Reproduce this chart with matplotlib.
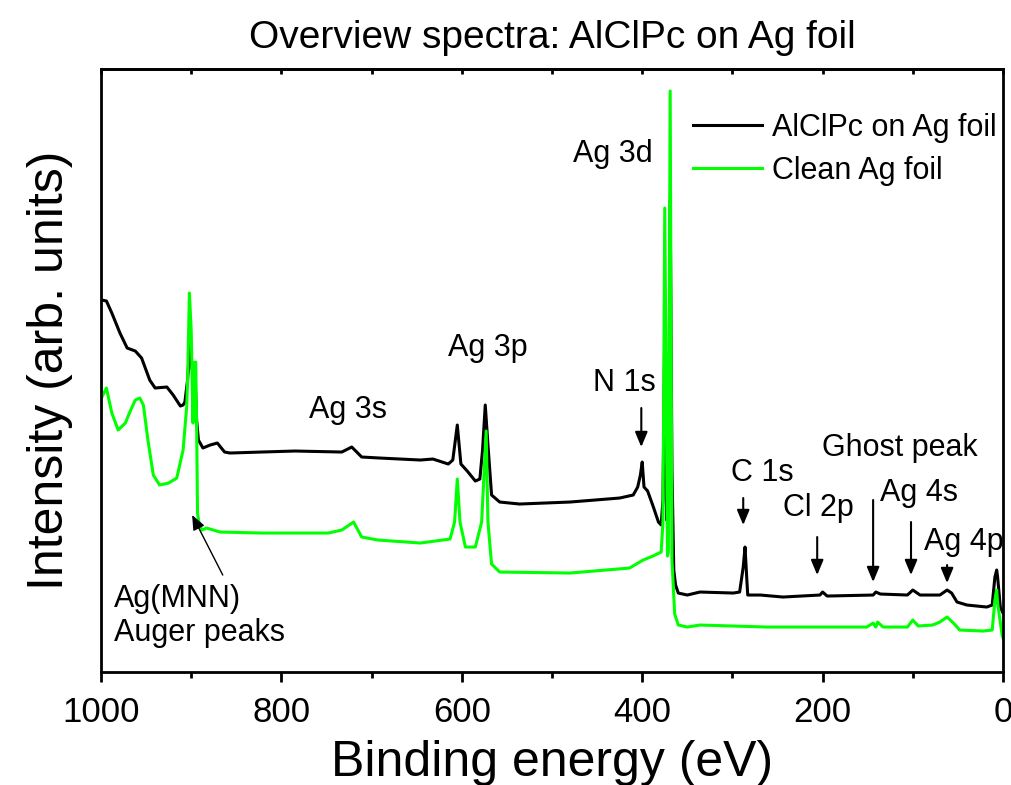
import matplotlib
matplotlib.use("Agg")
import matplotlib.pyplot as plt
from matplotlib.ticker import MultipleLocator

plt.rcParams["font.family"] = ["Liberation Sans", "DejaVu Sans"]

# AlClPc on Ag foil (binding energy in eV, intensity in arb. units)
be_alclpc = [999, 994, 988, 979, 971, 962, 955, 946, 940, 927, 920, 912, 909, 907,
             904, 901, 899, 896, 894, 892, 887, 879, 871, 863, 857, 822, 785, 733,
             722, 711, 691, 646, 632, 615, 610, 605, 601, 594, 585, 580, 577, 574,
             571, 567, 558, 536, 480, 425, 410, 405, 402, 400, 398, 394, 388, 382,
             379, 377, 375, 373, 371, 369, 367, 365, 363, 360, 350, 336, 299, 292,
             288, 286, 284, 283, 269, 244, 203, 200, 195, 144, 141, 136, 106, 100,
             92, 70, 62, 57, 51, 40, 18, 12, 9, 7, 6, 3, 0]
int_alclpc = [372, 371, 359, 339, 324, 321, 314, 292, 284, 285, 277, 266, 267, 270,
              292, 332, 302, 302, 252, 232, 224, 227, 229, 220, 219, 220, 221, 220,
              225, 215, 214, 212, 213, 208, 212, 247, 208, 201, 191, 193, 222, 267,
              227, 177, 170, 168, 170, 174, 177, 185, 197, 210, 185, 181, 166, 150,
              147, 172, 342, 152, 172, 472, 202, 102, 87, 79, 77, 80, 79, 80,
              105, 125, 92, 77, 77, 75, 77, 80, 76, 77, 80, 78, 77, 82,
              77, 77, 82, 79, 70, 67, 65, 67, 95, 102, 95, 65, 59]

# Clean Ag foil
be_clean = [999, 994, 988, 981, 973, 968, 962, 957, 953, 948, 942, 935, 925, 916,
            909, 905, 904, 902, 900, 898, 897, 895, 894, 893, 891, 888, 883, 868,
            822, 748, 733, 720, 711, 693, 646, 613, 608, 605, 602, 596, 585, 578,
            573, 571, 567, 558, 480, 414, 399, 388, 379, 377, 375, 372, 371, 369,
            367, 364, 360, 350, 336, 262, 151, 144, 141, 139, 133, 106, 100, 94,
            78, 70, 62, 55, 48, 22, 12, 9, 7, 6, 1, 0]
int_clean = [275, 284, 259, 242, 249, 260, 272, 274, 267, 232, 197, 187, 189, 194,
             222, 265, 292, 379, 342, 249, 309, 310, 249, 159, 147, 142, 144, 140,
             139, 139, 142, 150, 135, 132, 129, 133, 150, 193, 150, 125, 125, 150,
             241, 150, 108, 100, 99, 104, 112, 116, 120, 150, 464, 116, 120, 581,
             112, 58, 47, 45, 47, 45, 45, 49, 45, 50, 45, 45, 52, 46,
             47, 50, 55, 49, 42, 41, 42, 72, 82, 69, 37, 34]

# peak labels: text, text position (eV, intensity)
labels = ["Ag 3d", "Ag 3p", "Ag 3s", "N 1s", "C 1s", "Cl 2p", "Ghost peak", "Ag 4s", "Ag 4p"]
label_be = [433, 571, 726, 420, 267, 205, 114, 93, 43]
label_int = [518, 324, 262, 289, 199, 164, 224, 179, 130]

# arrows: energy, tail intensity, tip intensity
arrow_be = [401, 288, 206, 144, 102, 62]
arrow_tail = [264, 174, 135, 172, 150, 107]
arrow_tip = [225, 147, 97, 90, 97, 89]

fig = plt.figure(figsize=(10.11, 7.85), dpi=100)
ax = fig.add_axes([0.0999, 0.1439, 0.8922, 0.7682])

ax.plot(be_alclpc, int_alclpc, color="black", lw=2.2, label="AlClPc on Ag foil")
ax.plot(be_clean, int_clean, color="#00ff00", lw=2.2, label="Clean Ag foil")

ax.set_xlim(1000, 0)
ax.set_ylim(0, 603)
ax.set_yticks([])
ax.xaxis.set_major_locator(MultipleLocator(200))
ax.xaxis.set_minor_locator(MultipleLocator(100))
ax.tick_params(axis="x", which="major", direction="out", length=7, width=2,
               labelsize=25, pad=10)
ax.tick_params(axis="x", which="minor", direction="out", length=4, width=2)
for s in ax.spines.values():
    s.set_linewidth(2)

top = ax.secondary_xaxis("top")
top.xaxis.set_major_locator(MultipleLocator(200))
top.xaxis.set_minor_locator(MultipleLocator(100))
top.tick_params(which="both", direction="in", length=3.5, width=2, labeltop=False)
top.spines["top"].set_linewidth(2)

ax.set_xlabel("Binding energy (eV)", fontsize=36, labelpad=8)
ax.set_ylabel("Intensity (arb. units)", fontsize=36, labelpad=20)
ax.set_title("Overview spectra: AlClPc on Ag foil", fontsize=28, pad=15)

for t, x, y in zip(labels, label_be, label_int):
    ax.text(x, y, t, fontsize=22, ha="center", va="center")

for x, y0, y1 in zip(arrow_be, arrow_tail, arrow_tip):
    ax.annotate("", xy=(x, y1), xytext=(x, y0),
                arrowprops=dict(arrowstyle="-|>,head_length=0.6,head_width=0.25",
                                color="black", lw=1.5, shrinkA=0, shrinkB=0,
                                mutation_scale=15))

# Auger label and arrow
ax.text(986, 56, "Ag(MNN)\nAuger peaks", fontsize=22, ha="left", va="center",
        linespacing=1.15)
ax.annotate("", xy=(899, 157), xytext=(865, 97),
            arrowprops=dict(arrowstyle="-|>,head_length=0.6,head_width=0.25",
                            color="black", lw=1.0, shrinkA=0, shrinkB=0,
                            mutation_scale=15))

ax.legend(loc="upper right", bbox_to_anchor=(1.0, 0.937), frameon=False,
          fontsize=22, handlelength=2.26, handletextpad=0.33, labelspacing=0.42,
          borderaxespad=0, borderpad=0.2)

fig.savefig("out.png", dpi=100)
